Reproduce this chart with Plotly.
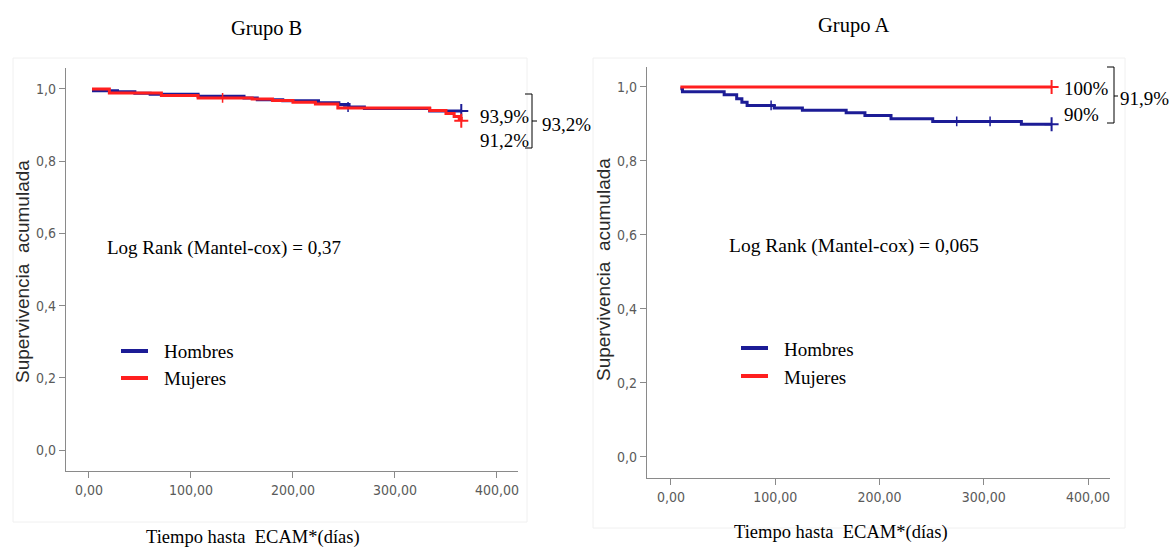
import plotly.graph_objects as go

W, H = 1171, 547

# ---------------- data ----------------
x_ticks = [0, 100, 200, 300, 400]
x_ticklabels = ["0,00", "100,00", "200,00", "300,00", "400,00"]
y_ticks = [0.0, 0.2, 0.4, 0.6, 0.8, 1.0]
y_ticklabels = ["0,0", "0,2", "0,4", "0,6", "0,8", "1,0"]

# Grupo B
b_hombres_t = [3, 28, 45, 60, 107, 152, 165, 190, 225, 245, 255, 270, 334, 365]
b_hombres_s = [0.995, 0.992, 0.988, 0.985, 0.980, 0.975, 0.970, 0.967, 0.962, 0.957, 0.950, 0.946, 0.939, 0.939]
b_mujeres_t = [3, 20, 71, 107, 160, 180, 200, 222, 244, 334, 350, 358, 363, 365]
b_mujeres_s = [1.0, 0.989, 0.982, 0.975, 0.972, 0.968, 0.963, 0.958, 0.947, 0.940, 0.932, 0.924, 0.918, 0.912]
b_hombres_cens_t = [254]
b_hombres_cens_s = [0.950]
b_mujeres_cens_t = [131]
b_mujeres_cens_s = [0.975]
b_hombres_end = [365, 0.939]
b_mujeres_end = [365, 0.912]

# Grupo A
a_hombres_t = [9, 11, 51, 63, 68, 73, 99, 126, 168, 186, 211, 251, 336, 365]
a_hombres_s = [0.995, 0.987, 0.979, 0.968, 0.959, 0.950, 0.943, 0.937, 0.930, 0.923, 0.914, 0.907, 0.899, 0.899]
a_mujeres_t = [9, 365]
a_mujeres_s = [1.0, 1.0]
a_hombres_cens_t = [96, 274, 306]
a_hombres_cens_s = [0.950, 0.907, 0.907]
a_mujeres_cens_t = []
a_mujeres_cens_s = []
a_hombres_end = [365, 0.899]
a_mujeres_end = [365, 1.0]

titles = ["Grupo B", "Grupo A"]
logrank = ["Log Rank (Mantel-cox) = 0,37", "Log Rank (Mantel-cox) = 0,065"]
series_names = ["Hombres", "Mujeres"]
left_pct = ["93,9%", "91,2%", "93,2%"]
right_pct = ["100%", "90%", "91,9%"]

BLUE = "#1c1c96"
RED = "#ff1f1f"
AX = "#8a8a8a"
SERIF = "Liberation Serif, Times New Roman, serif"
NARROW = "Liberation Sans Narrow, DejaVu Sans Condensed, Arial, sans-serif"
SANS = "Liberation Sans, Arial, sans-serif"


def px(x):
    return x / W


def py(y):
    return 1 - y / H


fig = go.Figure()


def add_curve(t, s, ct, cs, end, color, xa, ya, name):
    fig.add_trace(go.Scatter(x=t, y=s, mode="lines", line=dict(color=color, width=3, shape="hv"),
                             xaxis=xa, yaxis=ya, name=name, showlegend=False, hoverinfo="skip"))
    if ct:
        fig.add_trace(go.Scatter(x=ct, y=cs, mode="markers",
                                 marker=dict(symbol="cross-thin", size=7, line=dict(color=color, width=1.5)),
                                 xaxis=xa, yaxis=ya, showlegend=False, hoverinfo="skip"))
    fig.add_trace(go.Scatter(x=[end[0]], y=[end[1]], mode="markers",
                             marker=dict(symbol="cross-thin", size=10, line=dict(color=color, width=2)),
                             xaxis=xa, yaxis=ya, showlegend=False, hoverinfo="skip"))


add_curve(b_hombres_t, b_hombres_s, b_hombres_cens_t, b_hombres_cens_s, b_hombres_end, BLUE, "x", "y", "Hombres")
add_curve(b_mujeres_t, b_mujeres_s, b_mujeres_cens_t, b_mujeres_cens_s, b_mujeres_end, RED, "x", "y", "Mujeres")
add_curve(a_hombres_t, a_hombres_s, a_hombres_cens_t, a_hombres_cens_s, a_hombres_end, BLUE, "x2", "y2", "Hombres")
add_curve(a_mujeres_t, a_mujeres_s, a_mujeres_cens_t, a_mujeres_cens_s, a_mujeres_end, RED, "x2", "y2", "Mujeres")

axis_common = dict(showline=True, linecolor=AX, linewidth=1.3, ticks="outside", tickcolor=AX,
                   ticklen=6, tickwidth=1.3, showgrid=False, zeroline=False,
                   tickfont=dict(family=NARROW, size=14, color="#5a5a5a"))

fig.update_layout(
    width=W, height=H, margin=dict(l=0, r=0, t=0, b=0),
    paper_bgcolor="white", plot_bgcolor="white",
    xaxis=dict(domain=[px(66), px(518)], range=[-22.5, 420.6], anchor="y",
               tickvals=x_ticks, ticktext=x_ticklabels, **axis_common),
    yaxis=dict(domain=[py(471), py(68)], range=[-0.058, 1.058], anchor="x",
               tickvals=y_ticks, ticktext=y_ticklabels, **axis_common),
    xaxis2=dict(domain=[px(647), px(1110)], range=[-23, 421], anchor="y2",
                tickvals=x_ticks, ticktext=x_ticklabels, **axis_common),
    yaxis2=dict(domain=[py(478), py(67)], range=[-0.057, 1.054], anchor="x2",
                tickvals=y_ticks, ticktext=y_ticklabels, **axis_common),
)

shapes = []
annos = []


def text(x, y, s, size=19, family=SERIF, color="black", xanchor="left", angle=0):
    annos.append(dict(x=px(x), y=py(y), xref="paper", yref="paper", text=s, showarrow=False,
                      xanchor=xanchor, yanchor="middle", textangle=angle,
                      font=dict(family=family, size=size, color=color)))


def line(x0, y0, x1, y1, color="black", width=1):
    shapes.append(dict(type="line", xref="paper", yref="paper", x0=px(x0), y0=py(y0),
                       x1=px(x1), y1=py(y1), line=dict(color=color, width=width)))


# faint frames
shapes.append(dict(type="rect", xref="paper", yref="paper", x0=px(13), y0=py(522), x1=px(527), y1=py(58),
                   line=dict(color="#f0f0f0", width=1)))
shapes.append(dict(type="rect", xref="paper", yref="paper", x0=px(593), y0=py(528), x1=px(1125), y1=py(58),
                   line=dict(color="#f0f0f0", width=1)))

# titles
text(266, 28, titles[0], size=20.5, xanchor="center")
text(853, 26, titles[1], size=20.5, xanchor="center")

# axis titles
text(22, 272, "Supervivencia  acumulada", size=19, family=SANS, color="#2a2a2a", xanchor="center", angle=-90)
text(603, 270, "Supervivencia  acumulada", size=19, family=SANS, color="#2a2a2a", xanchor="center", angle=-90)
text(253, 537, "Tiempo hasta  ECAM*(días)", size=18.5, xanchor="center")
text(841, 532, "Tiempo hasta  ECAM*(días)", size=18.5, xanchor="center")

# log rank
text(105, 248, logrank[0])
text(727, 246, logrank[1], size=19.5)

# legends
line(121, 351, 148, 351, BLUE, 4)
line(121, 378, 148, 378, RED, 4)
text(162, 351, series_names[0])
text(162, 378, series_names[1])
line(741, 348, 768, 348, BLUE, 4)
line(741, 376, 768, 376, RED, 4)
text(782, 349, series_names[0])
text(782, 377, series_names[1])

# left percentages and bracket
text(478, 116, left_pct[0])
text(478, 141, left_pct[1])
line(532, 94, 532, 148)
line(525, 94, 532, 94)
line(525, 148, 532, 148)
line(532, 121, 537, 121)
text(540, 124, left_pct[2])

# right percentages and bracket
text(1062, 88, right_pct[0])
text(1062, 114, right_pct[1])
line(1114, 67, 1114, 123)
line(1107, 67, 1114, 67)
line(1107, 123, 1114, 123)
line(1114, 96, 1118, 96)
text(1118, 98, right_pct[2])

fig.update_layout(shapes=shapes, annotations=annos)

fig.write_html("out.html", config={"displayModeBar": False},
               post_script="document.body.style.margin='0';")
